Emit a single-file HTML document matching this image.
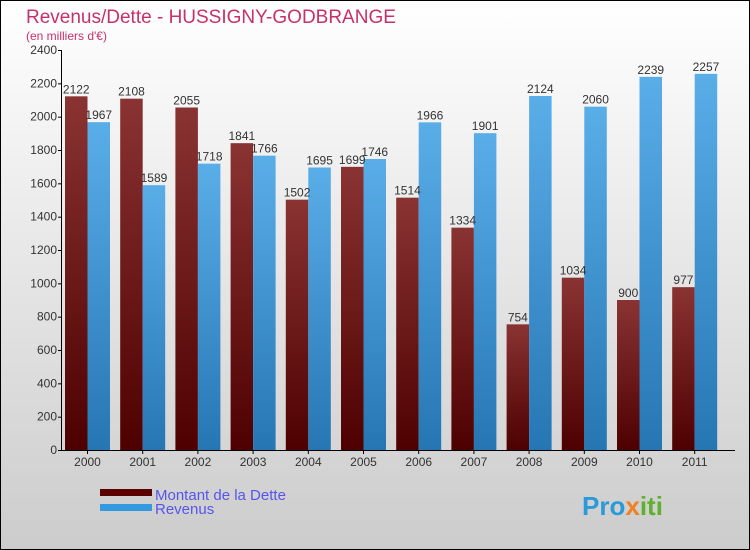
<!DOCTYPE html>
<html><head><meta charset="utf-8"><style>
body{margin:0}
svg{display:block;font-family:"Liberation Sans",sans-serif}
</style></head><body>
<svg id="c" width="750" height="550">
<defs>
<linearGradient id="bg" x1="0" y1="0" x2="0" y2="1"><stop offset="0" stop-color="#ffffff"/><stop offset="1" stop-color="#cccccc"/></linearGradient>
<linearGradient id="gr" x1="0" y1="0" x2="0" y2="1"><stop offset="0" stop-color="#8a3333"/><stop offset="1" stop-color="#4e0000"/></linearGradient>
<linearGradient id="gb" x1="0" y1="0" x2="0" y2="1"><stop offset="0" stop-color="#5aaee8"/><stop offset="1" stop-color="#2676b4"/></linearGradient>
</defs>
<rect x="0.5" y="0.5" width="749" height="549" fill="url(#bg)" stroke="#000"/>
<text x="26" y="23" font-size="19" fill="#c8306a">Revenus/Dette - HUSSIGNY-GODBRANGE</text>
<text x="26" y="40" font-size="12" fill="#c8306a">(en milliers d'€)</text>
<g id="plot"></g>
<rect x="100" y="489" width="52" height="7" fill="#5a0000"/>
<rect x="100" y="504" width="52" height="7" fill="#3399e0"/>
<text x="155" y="500" font-size="15" fill="#5555ee">Montant de la Dette</text>
<text x="155" y="514" font-size="15" fill="#5555ee">Revenus</text>
<text x="582" y="515" font-size="26" font-weight="bold" fill="#2a9ad8">Pro<tspan fill="#f08020">x</tspan><tspan fill="#60b030">iti</tspan></text>
</svg>
<script>
const years=["2000","2001","2002","2003","2004","2005","2006","2007","2008","2009","2010","2011"];
const debt=[2122,2108,2055,1841,1502,1699,1514,1334,754,1034,900,977];
const revenue=[1967,1589,1718,1766,1695,1746,1966,1901,2124,2060,2239,2257];
const yTicks=[0,200,400,600,800,1000,1200,1400,1600,1800,2000,2200,2400];
const NS="http://www.w3.org/2000/svg";
const g=document.getElementById('plot');
const y0=450,yTop=50,maxV=2400,x0=62,step=55.2,bw=22.5;
const Y=v=>y0-(v/maxV)*(y0-yTop);
const X=i=>x0+3+i*step;
function mk(t,a){const e=document.createElementNS(NS,t);for(const k in a)e.setAttribute(k,a[k]);g.appendChild(e);return e;}
years.forEach((yr,i)=>{
 const xr=X(i);
 let r=mk('rect',{x:xr,y:Y(debt[i]),width:bw,height:y0-Y(debt[i]),fill:'url(#gr)'});
 
 
 let b=mk('rect',{x:xr+bw,y:Y(revenue[i]),width:bw,height:y0-Y(revenue[i]),fill:'url(#gb)'});
 
 
 let t1=mk('text',{x:xr+bw/2,y:Y(debt[i])-3,'font-size':12,fill:'#333','text-anchor':'middle'});t1.textContent=debt[i];
 
 
 let t2=mk('text',{x:xr+bw*1.5,y:Y(revenue[i])-3,'font-size':12,fill:'#333','text-anchor':'middle'});t2.textContent=revenue[i];
 
 
 let tx=mk('text',{x:xr+bw,y:466,'font-size':12,fill:'#333','text-anchor':'middle'});tx.textContent=yr;
 
 
 mk('line',{x1:xr+bw,x2:xr+bw,y1:450,y2:454,stroke:'#000'});
});
let ax=mk('line',{x1:x0-0.5,x2:x0-0.5,y1:yTop,y2:y0,stroke:'#000'});


let axx=mk('line',{x1:x0-1,x2:735,y1:y0+0.5,y2:y0+0.5,stroke:'#000'});


yTicks.forEach(v=>{
 mk('line',{x1:x0-4,x2:x0,y1:Y(v)+0.5,y2:Y(v)+0.5,stroke:'#000'});
 let t=mk('text',{x:x0-5,y:Y(v)+4,'font-size':12,fill:'#333','text-anchor':'end'});t.textContent=v;
 
 
});
</script>
</body></html>
